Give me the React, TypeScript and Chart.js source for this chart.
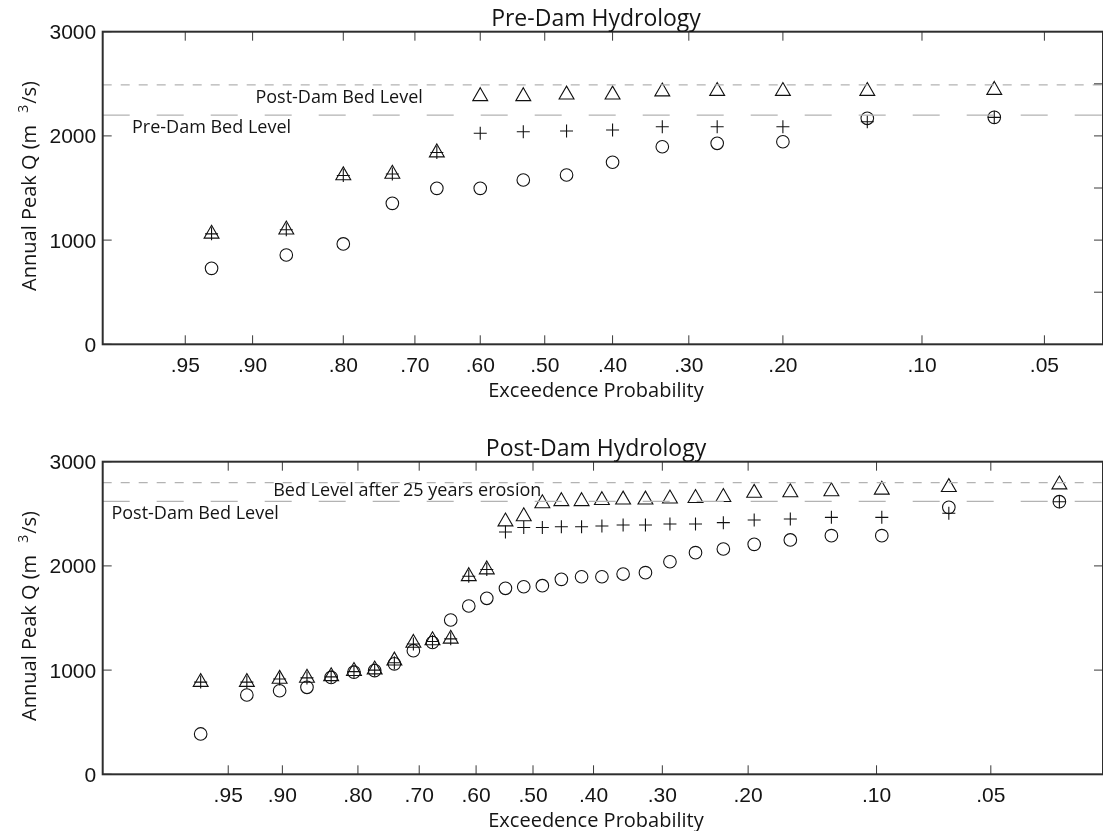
import React, { useEffect, useRef } from 'react';
import { Chart, Scale, registerables } from 'chart.js';

// ---------- axis ticks ----------
const PROB_TICKS = [0.95, 0.9, 0.8, 0.7, 0.6, 0.5, 0.4, 0.3, 0.2, 0.1, 0.05];
const Q_TICKS = [0, 1000, 2000, 3000];
const PRE_RIGHT_TICKS = [500, 1000, 1500, 2000, 2500];
const POST_RIGHT_TICKS = [1000, 2000];

// ---------- pre-dam record (14 annual peaks, plotting positions m/15) ----------
const PRE_EXCEEDENCE = [0.933, 0.867, 0.8, 0.733, 0.667, 0.6, 0.533, 0.467, 0.4, 0.333, 0.267, 0.2, 0.133, 0.067];
const PRE_CIRCLE = [729, 857, 963, 1353, 1497, 1497, 1577, 1625, 1747, 1896, 1929, 1944, 2169, 2178];
const PRE_PLUS = [1060, 1100, 1620, 1635, 1840, 2025, 2040, 2047, 2057, 2088, 2088, 2088, 2136, 2178];
const PRE_TRIANGLE = [1060, 1100, 1620, 1635, 1840, 2380, 2380, 2395, 2395, 2425, 2430, 2430, 2430, 2440];
const PRE_POST_DAM_BED = 2490;
const PRE_PRE_DAM_BED = 2200;

// ---------- post-dam record (30 annual peaks, plotting positions m/31) ----------
const POST_EXCEEDENCE = [
  0.968, 0.935, 0.903, 0.871, 0.839, 0.806, 0.774, 0.742, 0.71, 0.677,
  0.645, 0.613, 0.581, 0.548, 0.516, 0.484, 0.452, 0.419, 0.387, 0.355,
  0.323, 0.29, 0.258, 0.226, 0.194, 0.161, 0.129, 0.097, 0.065, 0.032,
];
const POST_CIRCLE = [
  387, 761, 802, 835, 930, 980, 995, 1060, 1186, 1265,
  1481, 1615, 1689, 1785, 1800, 1810, 1871, 1896, 1896, 1922,
  1935, 2040, 2127, 2162, 2207, 2249, 2290, 2290, 2562, 2616,
];
const POST_PLUS = [
  885, 885, 915, 925, 935, 985, 1000, 1070, 1250, 1275,
  1300, 1900, 1965, 2325, 2368, 2368, 2376, 2376, 2383, 2393,
  2393, 2402, 2402, 2415, 2440, 2450, 2466, 2466, 2505, 2616,
];
const POST_TRIANGLE = [
  885, 885, 915, 925, 940, 990, 1005, 1090, 1260, 1285,
  1300, 1900, 1965, 2425, 2475, 2600, 2620, 2620, 2630, 2635,
  2635, 2645, 2650, 2660, 2700, 2705, 2715, 2730, 2755, 2780,
];
const POST_EROSION_BED = 2800;
const POST_POST_DAM_BED = 2620;

// ---------- styling ----------
const INK = '#141414';
const TEXT_FONT = '"Open Sans", "Noto Sans", sans-serif';
const TICK_FONT = '21px "Liberation Sans", Arial, sans-serif';
const TICK_LEN = 9;
const CANVAS_WIDTH = 1103;

// Inverse standard normal CDF (Acklam's rational approximation).
function normInv(p: number): number {
  const a = [-3.969683028665376e1, 2.209460984245205e2, -2.759285104469687e2, 1.38357751867269e2, -3.066479806614716e1, 2.506628277459239];
  const b = [-5.447609879822406e1, 1.615858368580409e2, -1.556989798598866e2, 6.680131188771972e1, -1.328068155288572e1];
  const c = [-7.784894002430293e-3, -3.223964580411365e-1, -2.400758277161838, -2.549732539343734, 4.374664141464968, 2.938163982698783];
  const d = [7.784695709041462e-3, 3.224671290700398e-1, 2.445134137142996, 3.754408661907416];
  const pl = 0.02425;
  if (p < pl) {
    const q = Math.sqrt(-2 * Math.log(p));
    return (((((c[0] * q + c[1]) * q + c[2]) * q + c[3]) * q + c[4]) * q + c[5]) / ((((d[0] * q + d[1]) * q + d[2]) * q + d[3]) * q + 1);
  }
  if (p > 1 - pl) {
    const q = Math.sqrt(-2 * Math.log(1 - p));
    return -(((((c[0] * q + c[1]) * q + c[2]) * q + c[3]) * q + c[4]) * q + c[5]) / ((((d[0] * q + d[1]) * q + d[2]) * q + d[3]) * q + 1);
  }
  const q = p - 0.5;
  const r = q * q;
  return ((((((a[0] * r + a[1]) * r + a[2]) * r + a[3]) * r + a[4]) * r + a[5]) * q) / (((((b[0] * r + b[1]) * r + b[2]) * r + b[3]) * r + b[4]) * r + 1);
}

function erf(x: number) {
  const t = 1 / (1 + 0.3275911 * Math.abs(x));
  const y = 1 - (((((1.061405429 * t - 1.453152027) * t) + 1.421413741) * t - 0.284496736) * t + 0.254829592) * t * Math.exp(-x * x);
  return x >= 0 ? y : -y;
}

function formatProb(p: number) {
  return p.toFixed(2).replace(/^0/, '');
}

// Exceedence-probability axis: normal quantile of the non-exceedence
// probability, with a slight quadratic bend toward the rare-flood side.
class ProbabilityScale extends Scale {
  static id = 'probability';
  static defaults = {};
  uLeft = 0;
  uRight = 1;

  unit(p: number) {
    const z = normInv(1 - p);
    return z + (this.options as any).bend * z * z;
  }
  determineDataLimits() {
    const o = this.options as any;
    this.min = o.left;
    this.max = o.right;
  }
  buildTicks() {
    return PROB_TICKS.map((value) => ({ value }));
  }
  getLabelForValue(v: number) {
    return formatProb(v);
  }
  configure() {
    super.configure();
    this.uLeft = this.unit(this.min);
    this.uRight = this.unit(this.max);
  }
  getPixelForValue(v: number) {
    return this.getPixelForDecimal((this.unit(v) - this.uLeft) / (this.uRight - this.uLeft));
  }
  getValueForPixel(px: number) {
    const u = this.uLeft + this.getDecimalForPixel(px) * (this.uRight - this.uLeft);
    const k = (this.options as any).bend;
    const z = (-1 + Math.sqrt(Math.max(0, 1 + 4 * k * u))) / (2 * k);
    return 1 - 0.5 * (1 + erf(z / Math.SQRT2));
  }
}

Chart.register(...registerables, ProbabilityScale);

interface Note { text: string; dx: number; dy: number }
interface Panel {
  title: string;
  exceedence: number[];
  circle: number[];
  plus: number[];
  triangle: number[];
  upperBed: number;
  lowerBed: number;
  notes: Note[];
  left: number;
  right: number;
  bend: number;
  rightTicks: number[];
  height: number;
  padding: { left: number; right: number; top: number; bottom: number };
}

const PRE_PANEL: Panel = {
  title: 'Pre-Dam Hydrology',
  exceedence: PRE_EXCEEDENCE,
  circle: PRE_CIRCLE,
  plus: PRE_PLUS,
  triangle: PRE_TRIANGLE,
  upperBed: PRE_POST_DAM_BED,
  lowerBed: PRE_PRE_DAM_BED,
  notes: [
    { text: 'Post-Dam Bed Level', dx: 152.7, dy: 71.6 },
    { text: 'Pre-Dam Bed Level', dx: 29.3, dy: 101.6 },
  ],
  left: 0.9843,
  right: 0.035,
  bend: 0.0992,
  rightTicks: PRE_RIGHT_TICKS,
  height: 415,
  // the right edge of the axes box sits just past the canvas edge
  padding: { left: 102.7, right: -3, top: 31.7, bottom: 70.7 },
};

const POST_PANEL: Panel = {
  title: 'Post-Dam Hydrology',
  exceedence: POST_EXCEEDENCE,
  circle: POST_CIRCLE,
  plus: POST_PLUS,
  triangle: POST_TRIANGLE,
  upperBed: POST_EROSION_BED,
  lowerBed: POST_POST_DAM_BED,
  notes: [
    { text: 'Bed Level after 25 years erosion', dx: 170.5, dy: 34.3 },
    { text: 'Post-Dam Bed Level', dx: 8.7, dy: 57.3 },
  ],
  left: 0.99775,
  right: 0.02383,
  bend: 0.122,
  rightTicks: POST_RIGHT_TICKS,
  height: 416,
  padding: { left: 102.7, right: -3, top: 46.7, bottom: 56.7 },
};

const axesPlugin = {
  id: 'probAxes',
  afterDatasetsDraw(chart: any, _args: any, opts: any) {
    const panel: Panel = opts.panel;
    const { ctx, chartArea: a, scales } = chart;
    const xs = scales.x;
    const ys = scales.y;
    ctx.save();

    // inward tick marks
    ctx.strokeStyle = '#3a3a3a';
    ctx.lineWidth = 1;
    ctx.beginPath();
    for (const p of PROB_TICKS) {
      const x = xs.getPixelForValue(p);
      ctx.moveTo(x, a.bottom);
      ctx.lineTo(x, a.bottom - TICK_LEN);
      ctx.moveTo(x, a.top);
      ctx.lineTo(x, a.top + TICK_LEN);
    }
    for (const q of Q_TICKS) {
      const y = ys.getPixelForValue(q);
      ctx.moveTo(a.left, y);
      ctx.lineTo(a.left + TICK_LEN, y);
    }
    for (const q of panel.rightTicks) {
      const y = ys.getPixelForValue(q);
      ctx.moveTo(a.right, y);
      ctx.lineTo(a.right - TICK_LEN, y);
    }
    ctx.stroke();

    // axes box
    ctx.strokeStyle = '#2e2e2e';
    ctx.lineWidth = 2;
    ctx.strokeRect(a.left, a.top, a.right - a.left, a.bottom - a.top);

    // tick labels
    ctx.fillStyle = INK;
    ctx.font = TICK_FONT;
    ctx.textBaseline = 'alphabetic';
    ctx.textAlign = 'center';
    for (const p of PROB_TICKS) {
      ctx.fillText(formatProb(p), xs.getPixelForValue(p), a.bottom + 27.4);
    }
    ctx.textAlign = 'right';
    for (const q of Q_TICKS) {
      ctx.fillText(String(q), a.left - 6.5, ys.getPixelForValue(q) + 7.5);
    }

    // title and x label
    const cx = 596;
    ctx.textAlign = 'center';
    ctx.font = `23px ${TEXT_FONT}`;
    ctx.fillText(panel.title, cx, a.top - 5.5);
    ctx.font = `20px ${TEXT_FONT}`;
    ctx.fillText('Exceedence Probability', cx, a.bottom + 52.7);

    // rotated y label with superscript
    ctx.save();
    ctx.translate(35.7, (a.top + a.bottom) / 2 - 1.5);
    ctx.rotate(-Math.PI / 2);
    ctx.textAlign = 'left';
    const mainFont = `20px ${TEXT_FONT}`;
    const supFont = `14px ${TEXT_FONT}`;
    ctx.font = mainFont;
    const head = 'Annual Peak Q (m';
    const tail = '/s)';
    const wHead = ctx.measureText(head).width;
    const wTail = ctx.measureText(tail).width;
    ctx.font = supFont;
    const wSup = ctx.measureText('3').width;
    const gap = 12;
    let x = -(wHead + gap + wSup + wTail) / 2;
    ctx.font = mainFont;
    ctx.fillText(head, x, 0);
    x += wHead + gap;
    ctx.font = supFont;
    ctx.fillText('3', x, -8);
    x += wSup + 1;
    ctx.font = mainFont;
    ctx.fillText(tail, x, 0);
    ctx.restore();

    // bed level notes
    ctx.textAlign = 'left';
    ctx.font = `18px ${TEXT_FONT}`;
    for (const n of panel.notes) {
      ctx.fillText(n.text, a.left + n.dx, a.top + n.dy);
    }
    ctx.restore();
  },
};

function makeChart(canvas: HTMLCanvasElement, panel: Panel) {
  const pts = (ys: number[]) => ys.map((y, i) => ({ x: panel.exceedence[i], y }));
  const level = (y: number) => [
    { x: panel.left, y },
    { x: panel.right, y },
  ];
  const marker = { borderColor: '#111', backgroundColor: 'rgba(0,0,0,0)', borderWidth: 1.1 };
  return new Chart(canvas, {
    type: 'scatter',
    data: {
      datasets: [
        { data: level(panel.upperBed), showLine: true, pointRadius: 0, borderColor: '#b3b3b3', borderWidth: 1.2, borderDash: [9, 9] },
        { data: level(panel.lowerBed), showLine: true, pointRadius: 0, borderColor: '#b3b3b3', borderWidth: 1.2, borderDash: [27, 27] },
        { data: pts(panel.circle), pointStyle: 'circle', pointRadius: 6.3, ...marker },
        { data: pts(panel.plus), pointStyle: 'cross', pointRadius: 6.5, ...marker },
        { data: pts(panel.triangle), pointStyle: 'triangle', pointRadius: 8.6, ...marker },
      ] as any,
    },
    options: {
      responsive: false,
      animation: false,
      events: [],
      layout: { padding: panel.padding, autoPadding: false },
      scales: {
        x: { type: 'probability', display: false, left: panel.left, right: panel.right, bend: panel.bend } as any,
        y: { type: 'linear', display: false, min: 0, max: 3000 },
      },
      plugins: {
        legend: { display: false },
        tooltip: { enabled: false },
        probAxes: { panel },
      } as any,
    },
    plugins: [axesPlugin],
  });
}

export default function App() {
  const topRef = useRef<HTMLCanvasElement>(null);
  const bottomRef = useRef<HTMLCanvasElement>(null);

  useEffect(() => {
    const charts = [makeChart(topRef.current!, PRE_PANEL), makeChart(bottomRef.current!, POST_PANEL)];
    return () => charts.forEach((c) => c.destroy());
  }, []);

  return (
    <div style={{ position: 'absolute', left: 0, top: 0, width: CANVAS_WIDTH, height: 831, background: '#fff' }}>
      <canvas ref={topRef} width={CANVAS_WIDTH} height={PRE_PANEL.height} style={{ position: 'absolute', left: 0, top: 0 }} />
      <canvas ref={bottomRef} width={CANVAS_WIDTH} height={POST_PANEL.height} style={{ position: 'absolute', left: 0, top: PRE_PANEL.height }} />
    </div>
  );
}
